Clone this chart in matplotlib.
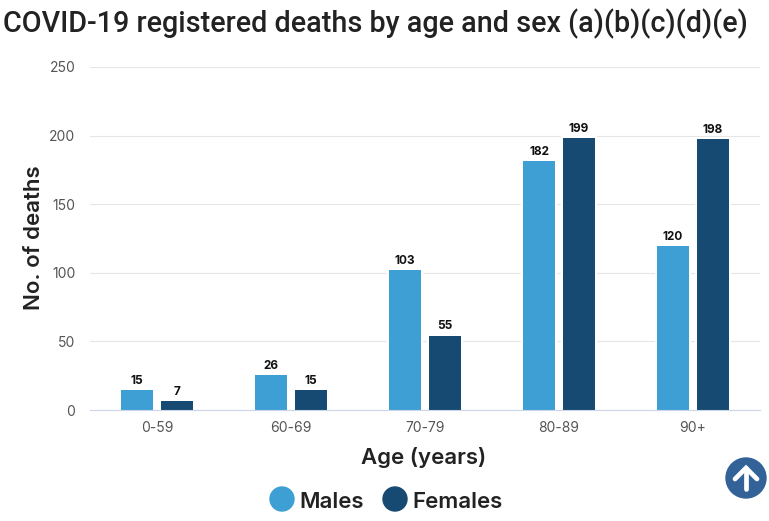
import matplotlib
matplotlib.use("Agg")
import matplotlib.pyplot as plt
from matplotlib.patches import Circle
import numpy as np

plt.rcParams['font.family'] = ['Inter', 'DejaVu Sans']

ages = ['0-59', '60-69', '70-79', '80-89', '90+']
males = [15, 26, 103, 182, 120]
females = [7, 15, 55, 199, 198]
yticks = [0, 50, 100, 150, 200, 250]

male_color = '#3d9fd3'
female_color = '#164a72'

W, H = 769, 521
fig = plt.figure(figsize=(W / 100, H / 100), dpi=100)
ax = fig.add_axes([90 / W, 1 - 410 / H, (760 - 90) / W, (410 - 67) / H])

x = np.arange(len(ages))
bw = 34 / 134
off = 20 / 134
# white outline on the bars breaks the gridlines, same as the original
b1 = ax.bar(x - off, males, bw, color=male_color, edgecolor='white', linewidth=1.44)
b2 = ax.bar(x + off, females, bw, color=female_color, edgecolor='white', linewidth=1.44)
# outline also eats the foot of the bars, so fill it back in
ax.bar(x - off, 1, 32 / 134, color=male_color)
ax.bar(x + off, 1, 32 / 134, color=female_color)
ax.bar_label(b1, padding=1.5, fontsize=8.5, fontweight='bold', color='#111111')
ax.bar_label(b2, padding=1.5, fontsize=8.5, fontweight='bold', color='#111111')

ax.set_xlim(-0.5, 4.5)
ax.set_ylim(0, 250)
ax.set_yticks(yticks)
ax.set_xticks(x)
ax.set_xticklabels(ages)
ax.tick_params(axis='y', length=0, labelsize=10, labelcolor='#555555', pad=10.5)
ax.tick_params(axis='x', length=0, labelsize=10, labelcolor='#555555', pad=8)
for lab in ax.get_yticklabels():
    lab.set_va('center_baseline')
ax.grid(axis='y', color='#e6e6e6', lw=0.8)
ax.grid(axis='x', visible=False)
ax.set_axisbelow(True)
for s in ['top', 'left', 'right']:
    ax.spines[s].set_visible(False)
ax.spines['bottom'].set_color('#ccd6eb')

ax.set_xlabel('Age (years)', fontsize=16, fontweight='semibold', color='#222222')
ax.set_ylabel('No. of deaths', fontsize=16, fontweight='semibold', color='#222222')
ax.xaxis.set_label_coords((424 - 90) / (760 - 90), (410 - 457) / (410 - 67), transform=ax.transAxes)
ax.xaxis.label.set_va('center')
ax.yaxis.set_label_coords((34 - 90) / (760 - 90), (410 - 238) / (410 - 67), transform=ax.transAxes)
ax.yaxis.label.set_va('center')

fig.text(3 / W, 1 - 24 / H, 'COVID-19 registered deaths by age and sex (a)(b)(c)(d)(e)',
         fontsize=20.7, family='Roboto', fontweight='medium', color='#222222', va='center')

# overlay in pixel coordinates: legend and back-to-top button
ov = fig.add_axes([0, 0, 1, 1], facecolor='none')
ov.set_xlim(0, W)
ov.set_ylim(H, 0)
ov.axis('off')
ov.add_patch(Circle((282, 499), 12, color=male_color))
ov.text(299, 502, 'Males', fontsize=16, fontweight='semibold', color='#222222', va='center')
ov.add_patch(Circle((395, 499), 12, color=female_color))
ov.text(412.5, 502, 'Females', fontsize=16, fontweight='semibold', color='#222222', va='center')

ov.add_patch(Circle((746, 478), 20, color='#336299'))
ov.plot([746, 746], [468, 489], color='white', lw=3.4, solid_capstyle='round')
ov.plot([735, 746, 757], [479, 468, 479], color='white', lw=3.4,
        solid_capstyle='round', solid_joinstyle='miter')

fig.savefig('out.png', dpi=100)
